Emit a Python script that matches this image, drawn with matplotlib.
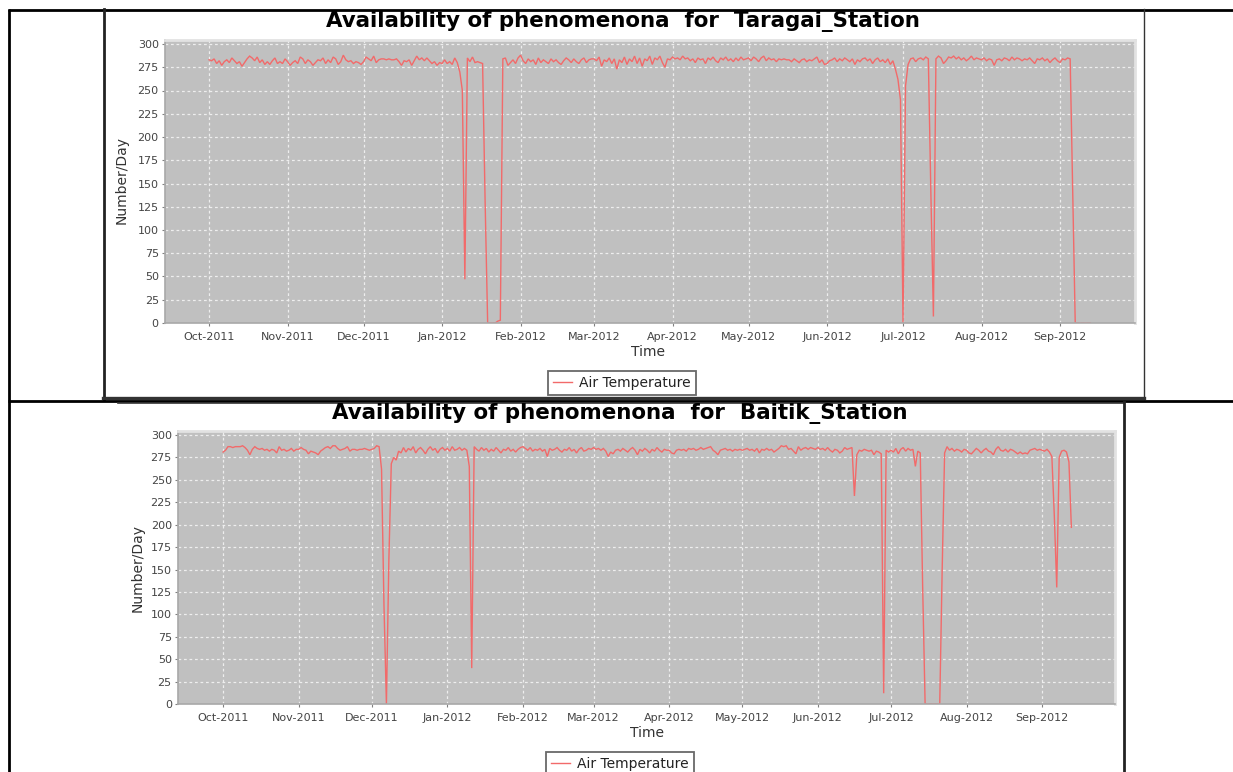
import numpy as np
import pandas as pd
import matplotlib
matplotlib.use('Agg')
import matplotlib.pyplot as plt
import matplotlib.dates as mdates

# ---------------- data (daily counts, starting 2011-10-01) ----------------
start_date = '2011-10-01'
series_name = 'Air Temperature'
y_ticks = list(range(0, 301, 25))
stations = ['Taragai_Station', 'Baitik_Station']

taragai_oct = [283, 282, 284, 279, 282, 277, 281, 283, 280, 285,
               282, 279, 281, 276, 280, 284, 287, 285, 282, 286,
               280, 283, 278, 281, 278, 282, 285, 279, 281, 279, 284]
taragai_nov = [281, 277, 280, 282, 279, 286, 284, 279, 283, 281,
               277, 280, 283, 282, 285, 279, 283, 280, 286, 284,
               278, 281, 288, 283, 281, 282, 279, 281, 280, 278]
taragai_dec = [281, 286, 284, 282, 287, 280, 283, 284, 284, 283,
               284, 283, 283, 284, 281, 277, 282, 281, 283, 277,
               282, 287, 283, 285, 282, 285, 282, 279, 281, 277, 280]
taragai_jan = [279, 283, 279, 281, 278, 285, 280, 270, 250, 47,
               285, 281, 286, 280, 281, 280, 279, 130, 0, 0,
               0, 0, 2, 3, 284, 285, 277, 280, 283, 279, 285]
taragai_feb = [288, 282, 279, 284, 281, 283, 278, 285, 280, 283,
               281, 279, 284, 281, 283, 280, 278, 282, 285, 283,
               280, 284, 281, 279, 283, 285, 280, 283, 284]
taragai_mar = [284, 282, 286, 276, 283, 281, 285, 279, 284, 273,
               283, 280, 286, 278, 284, 281, 287, 279, 285, 276,
               284, 282, 287, 278, 285, 283, 287, 280, 275, 284, 283]
taragai_apr = [286, 284, 285, 283, 287, 284, 285, 282, 284, 280,
               285, 283, 284, 279, 285, 283, 286, 282, 280, 285,
               283, 286, 282, 284, 281, 285, 282, 286, 283, 284]
taragai_may = [285, 282, 286, 284, 281, 285, 287, 282, 285, 283,
               284, 281, 284, 283, 284, 283, 283, 281, 284, 282,
               280, 283, 284, 281, 283, 282, 284, 286, 280, 283, 278]
taragai_jun = [279, 282, 283, 285, 281, 284, 282, 285, 283, 281,
               284, 278, 283, 281, 284, 285, 282, 284, 279, 283,
               285, 281, 283, 280, 284, 278, 282, 273, 262, 240]
taragai_jul = [0, 255, 278, 284, 285, 281, 284, 285, 283, 286,
               284, 140, 7, 284, 287, 285, 279, 282, 286, 285,
               287, 284, 286, 283, 285, 282, 284, 287, 283, 285, 284]
taragai_aug = [283, 285, 282, 284, 283, 277, 283, 284, 282, 285,
               284, 282, 286, 283, 285, 284, 282, 284, 283, 285,
               282, 279, 284, 283, 285, 282, 284, 280, 283, 285, 282]
taragai_sep = [280, 284, 283, 285, 284, 140, 0, 0, 0, 0, 0, 0, 0]

baitik_oct = [281, 283, 287, 287, 286, 287, 287, 287, 288, 286,
              283, 278, 284, 287, 285, 284, 285, 283, 284, 282,
              284, 283, 280, 287, 283, 284, 282, 283, 285, 282, 284]
baitik_nov = [284, 286, 284, 283, 279, 282, 281, 280, 278, 282,
              284, 286, 287, 285, 288, 288, 285, 283, 284, 285,
              287, 282, 284, 284, 283, 284, 284, 285, 284, 283]
baitik_dec = [284, 285, 288, 287, 262, 110, 0, 160, 268, 275,
              272, 282, 280, 286, 281, 285, 283, 287, 280, 284,
              286, 283, 279, 284, 287, 283, 285, 280, 284, 286, 283]
baitik_jan = [285, 282, 287, 283, 284, 286, 283, 285, 283, 265,
              40, 287, 284, 282, 286, 283, 285, 281, 284, 282,
              286, 283, 280, 284, 283, 286, 282, 284, 281, 284, 286]
baitik_feb = [287, 285, 283, 286, 282, 284, 283, 285, 282, 284,
              276, 285, 283, 284, 286, 283, 281, 284, 283, 286,
              282, 284, 280, 284, 286, 282, 283, 285, 284]
baitik_mar = [286, 284, 285, 283, 285, 282, 276, 281, 279, 283,
              284, 282, 285, 283, 281, 284, 286, 283, 278, 284,
              282, 285, 283, 280, 284, 282, 286, 283, 281, 284, 283]
baitik_apr = [283, 280, 279, 283, 284, 283, 284, 282, 285, 284,
              285, 283, 284, 286, 284, 285, 286, 287, 283, 281,
              278, 283, 284, 285, 283, 284, 282, 284, 283, 284]
baitik_may = [283, 284, 285, 283, 284, 282, 285, 280, 284, 283,
              285, 283, 284, 281, 283, 285, 288, 287, 288, 284,
              285, 282, 279, 287, 283, 285, 286, 284, 286, 285, 284]
baitik_jun = [286, 284, 285, 283, 286, 283, 281, 284, 283, 280,
              282, 286, 284, 285, 286, 232, 278, 283, 282, 284,
              283, 282, 283, 278, 282, 281, 279, 12, 283, 281]
baitik_jul = [283, 281, 285, 279, 284, 286, 282, 285, 283, 284,
              265, 282, 280, 130, 0, 0, 0, 0, 0, 0,
              0, 150, 280, 287, 283, 285, 282, 284, 283, 281, 284]
baitik_aug = [283, 280, 279, 282, 285, 283, 280, 283, 285, 282,
              281, 278, 284, 287, 283, 282, 284, 281, 284, 283,
              281, 279, 281, 279, 280, 279, 283, 284, 285, 283, 284]
baitik_sep = [283, 282, 284, 281, 276, 210, 130, 275, 282, 283, 281, 270, 197]

taragai = (taragai_oct + taragai_nov + taragai_dec + taragai_jan + taragai_feb +
           taragai_mar + taragai_apr + taragai_may + taragai_jun + taragai_jul +
           taragai_aug + taragai_sep)
baitik = (baitik_oct + baitik_nov + baitik_dec + baitik_jan + baitik_feb +
          baitik_mar + baitik_apr + baitik_may + baitik_jun + baitik_jul +
          baitik_aug + baitik_sep)

# ---------------- figure ----------------
W, H = 1233, 772
fig = plt.figure(figsize=(W / 100, H / 100), dpi=100)
fig.patch.set_facecolor('white')

def fx(px):
    return px / W

def fy(py):
    return 1 - py / H

LINE_COLOR = '#f26a6a'
BG = '#c0c0c0'

def make_panel(values, station, box, xlim_days, title_xy, ylab_xy, xlab_xy, leg_xy):
    l, t, r, b = box
    ax = fig.add_axes([fx(l), fy(b), fx(r - l), (b - t) / H])
    dates = pd.date_range(start_date, periods=len(values), freq='D')
    ln, = ax.plot(dates, values, color=LINE_COLOR, lw=1.0, solid_joinstyle='miter')
    ax.set_facecolor(BG)
    t0 = pd.Timestamp(start_date)
    ax.set_xlim(t0 + pd.Timedelta(days=xlim_days[0]), t0 + pd.Timedelta(days=xlim_days[1]))
    ax.set_ylim(0, 300 * (b - t) / (b - t - 4))
    ax.set_yticks(y_ticks)
    ax.xaxis.set_major_locator(mdates.MonthLocator())
    ax.xaxis.set_major_formatter(mdates.DateFormatter('%b-%Y'))
    ax.grid(True, color='#eeeeee', lw=0.9, linestyle=(0, (2.2, 2.2)))
    ax.set_axisbelow(True)
    ax.tick_params(axis='both', length=2.5, width=0.8, color='#808080',
                   labelsize=8, labelcolor='#444444')
    ax.tick_params(axis='x', pad=4)
    ax.tick_params(axis='y', pad=2)
    for s in ['top', 'right']:
        ax.spines[s].set_color('#e2e2e2')
        ax.spines[s].set_linewidth(2)
    for s in ['left', 'bottom']:
        ax.spines[s].set_color('#a8a8a8')
        ax.spines[s].set_linewidth(1.2)
    fig.text(fx(title_xy[0]), fy(title_xy[1]),
             f'Availability of phenomenona  for  {station}',
             ha='center', va='center', fontsize=15.4, fontweight='bold', color='black')
    fig.text(fx(ylab_xy[0]), fy(ylab_xy[1]), 'Number/Day', rotation=90,
             ha='center', va='center', fontsize=10, color='#333333')
    fig.text(fx(xlab_xy[0]), fy(xlab_xy[1]), 'Time',
             ha='center', va='center', fontsize=10, color='#333333')
    leg = fig.legend([ln], [series_name], loc='upper center',
                     bbox_to_anchor=(fx(leg_xy[0]), fy(leg_xy[1])),
                     frameon=True, fancybox=False, edgecolor='#444444',
                     fontsize=10, handlelength=1.4, handletextpad=0.5,
                     borderpad=0.35, borderaxespad=0)
    leg.get_frame().set_linewidth(1.3)
    for txt in leg.get_texts():
        txt.set_color('#222222')
    return ax

make_panel(taragai, stations[0], (165, 40, 1135, 323), (-17.4, 365.6),
           (623, 22), (122, 180), (648, 352), (622, 371))
make_panel(baitik, stations[1], (178, 431, 1115, 704), (-18.5, 365.9),
           (620, 414), (138, 568), (647, 733), (620, 752))

# ---------------- table / frame borders ----------------
ov = fig.add_axes([0, 0, 1, 1], zorder=-5)
ov.set_xlim(0, W)
ov.set_ylim(H, 0)
ov.axis('off')
ov.patch.set_alpha(0)
k = dict(color='black', solid_capstyle='butt')
ov.plot([8, W], [9.5, 9.5], lw=2.0, **k)         # table top
ov.plot([8.5, 8.5], [9, H], lw=2.0, **k)         # table left
ov.plot([103.5, 103.5], [9, 400], lw=2.0, color='#222222')  # top chart left
ov.plot([1143.5, 1143.5], [9, 399], lw=1.0, color='#333333')  # top chart right
ov.plot([103, 1144], [398, 398], lw=2.4, color='#333333')  # top chart bottom
ov.plot([8, W], [401, 401], lw=2.0, **k)         # table row line
ov.plot([118, 1124], [402.5, 402.5], lw=1.2, color='#333333')  # bottom chart top
ov.plot([1123.5, 1123.5], [402, H], lw=2.0, color='#222222')  # bottom chart right

fig.savefig('out.png', dpi=100, facecolor='white')
